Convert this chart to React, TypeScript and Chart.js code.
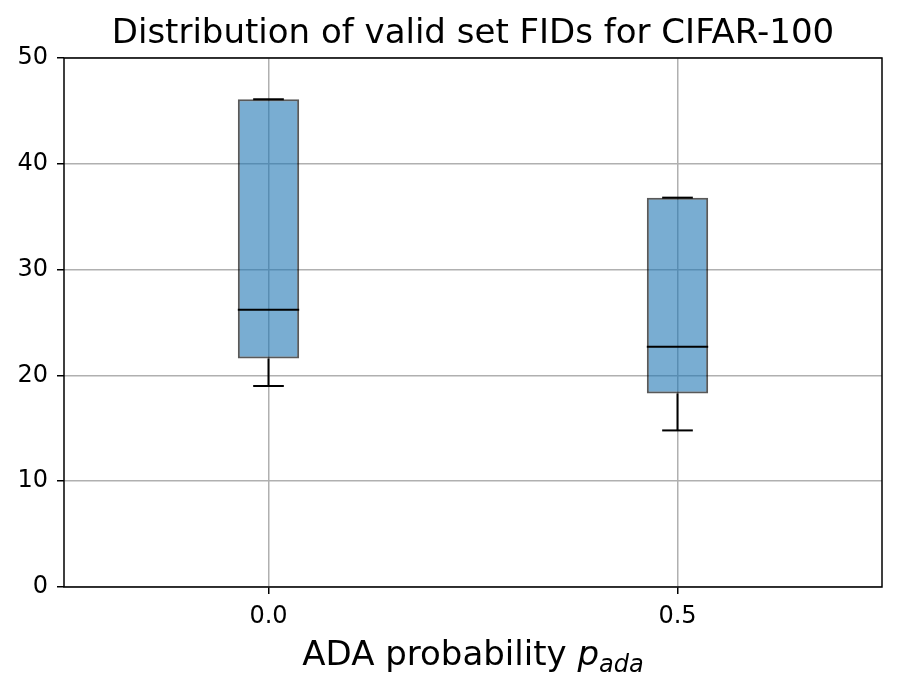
import React, { useEffect, useRef } from 'react';
import { Chart, registerables } from 'chart.js';

Chart.register(...registerables);

// ---- data ----
const categories = ['0.0', '0.5'];
const whiskerLow = [19.0, 14.8];
const q1 = [21.6, 18.3];
const median = [26.2, 22.7];
const q3 = [46.1, 36.8];
const whiskerHigh = [46.1, 36.8];
const yMin = 0;
const yMax = 50;
const yStep = 10;

const titleText = 'Distribution of valid set FIDs for CIFAR-100';
const xLabelMain = 'ADA probability ';
const xLabelSymbol = 'p';
const xLabelSub = 'ada';

const FONT = '"DejaVu Sans", sans-serif';
const BOX_FRAC = 0.15;

export default function App() {
  const ref = useRef<HTMLCanvasElement | null>(null);

  useEffect(() => {
    if (!ref.current) return;

    const boxExtras = {
      id: 'boxExtras',
      afterDatasetsDraw(chart: any) {
        const ctx = chart.ctx;
        const xs = chart.scales.x;
        const ys = chart.scales.y;
        const spacing = xs.getPixelForValue(1) - xs.getPixelForValue(0);
        const half = (spacing * BOX_FRAC) / 2;
        const capHalf = half / 2;
        ctx.save();
        ctx.strokeStyle = '#000';
        ctx.lineWidth = 2;
        ctx.lineCap = 'butt';
        const seg = (x1: number, y1: number, x2: number, y2: number) => {
          ctx.beginPath();
          ctx.moveTo(x1, y1);
          ctx.lineTo(x2, y2);
          ctx.stroke();
        };
        categories.forEach((_, i) => {
          const cx = xs.getPixelForValue(i);
          const yq1 = ys.getPixelForValue(q1[i]);
          const yq3 = ys.getPixelForValue(q3[i]);
          const ylo = ys.getPixelForValue(whiskerLow[i]);
          const yhi = ys.getPixelForValue(whiskerHigh[i]);
          const ymed = ys.getPixelForValue(median[i]);
          seg(cx, yq1, cx, ylo);
          seg(cx, yq3, cx, yhi);
          seg(cx - capHalf, ylo, cx + capHalf, ylo);
          seg(cx - capHalf, yhi, cx + capHalf, yhi);
          seg(cx - half, ymed, cx + half, ymed);
        });
        ctx.restore();
      },
      afterDraw(chart: any) {
        const ctx = chart.ctx;
        const a = chart.chartArea;
        ctx.save();
        // frame
        ctx.strokeStyle = '#000';
        ctx.lineWidth = 1.5;
        ctx.strokeRect(a.left, a.top, a.right - a.left, a.bottom - a.top);
        // title
        const cx = (a.left + a.right) / 2;
        ctx.fillStyle = '#000';
        ctx.textBaseline = 'alphabetic';
        ctx.textAlign = 'center';
        ctx.font = `34px ${FONT}`;
        ctx.fillText(titleText, cx, 43);
        // x label with italic symbol and subscript
        const mainFont = `34px ${FONT}`;
        const symFont = `italic 34px ${FONT}`;
        const subFont = `italic 24px ${FONT}`;
        ctx.font = mainFont;
        const w1 = ctx.measureText(xLabelMain).width;
        ctx.font = symFont;
        const w2 = ctx.measureText(xLabelSymbol).width;
        ctx.font = subFont;
        const w3 = ctx.measureText(xLabelSub).width;
        const total = w1 + w2 + w3;
        let x0 = cx - total / 2;
        const base = 665;
        ctx.textAlign = 'left';
        ctx.font = mainFont;
        ctx.fillText(xLabelMain, x0, base);
        x0 += w1;
        ctx.font = symFont;
        ctx.fillText(xLabelSymbol, x0, base);
        x0 += w2;
        ctx.font = subFont;
        ctx.fillText(xLabelSub, x0, base + 7);
        ctx.restore();
      },
    };

    const chart = new Chart(ref.current, {
      type: 'bar',
      data: {
        labels: categories,
        datasets: [
          {
            data: q1.map((v, i) => [v, q3[i]]) as any,
            backgroundColor: 'rgba(31,119,180,0.6)',
            borderColor: 'rgba(0,0,0,0.65)',
            borderWidth: 2,
            borderSkipped: false,
            barPercentage: BOX_FRAC,
            categoryPercentage: 1,
          },
        ],
      },
      options: {
        responsive: false,
        animation: false,
        devicePixelRatio: 1,
        layout: { padding: { top: 58, right: 17, left: 0, bottom: 0 } },
        plugins: {
          legend: { display: false },
          title: { display: false },
          tooltip: { enabled: false },
        },
        scales: {
          x: {
            offset: true,
            grid: {
              offset: false,
              color: '#b0b0b0',
              lineWidth: 1.5,
              tickColor: '#000',
              tickLength: 7,
              tickWidth: 1.5,
            },
            border: { display: false },
            ticks: {
              color: '#000',
              font: { family: FONT, size: 24 },
              padding: 8,
              maxRotation: 0,
            },
            afterFit: (s: any) => {
              s.height = 103;
            },
          },
          y: {
            min: yMin,
            max: yMax,
            grid: {
              color: '#b0b0b0',
              lineWidth: 1.5,
              tickColor: '#000',
              tickLength: 7,
              tickWidth: 1.5,
            },
            border: { display: false },
            ticks: {
              stepSize: yStep,
              color: '#000',
              font: { family: FONT, size: 24 },
              padding: 9,
            },
            afterFit: (s: any) => {
              s.width = 64;
            },
          },
        },
      },
      plugins: [boxExtras],
    });

    return () => chart.destroy();
  }, []);

  return (
    <div style={{ position: 'absolute', left: 0, top: 0, width: 899, height: 690, background: '#fff' }}>
      <canvas ref={ref} width={899} height={690} />
    </div>
  );
}
